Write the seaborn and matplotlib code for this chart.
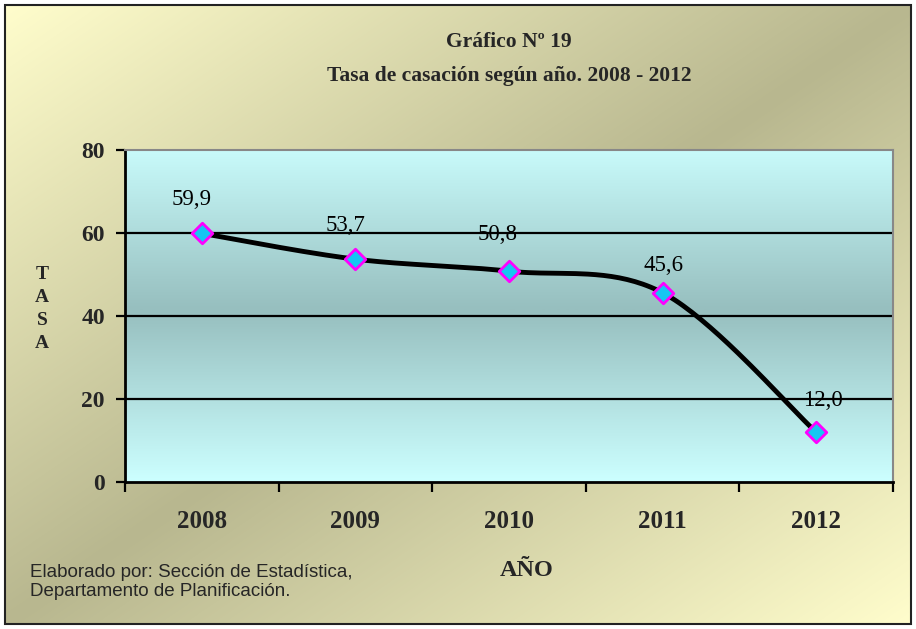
import numpy as np
import pandas as pd
import matplotlib
matplotlib.use('Agg')
import matplotlib.pyplot as plt
import seaborn as sns
from matplotlib.colors import LinearSegmentedColormap
from matplotlib.patches import Rectangle

# Data
years = ['2008', '2009', '2010', '2011', '2012']
tasa = [59.9, 53.7, 50.8, 45.6, 12.0]
labels = ['59,9', '53,7', '50,8', '45,6', '12,0']
# label offsets (points) relative to each marker
label_offsets = [(-7, 24.5), (-7, 24.5), (-8.5, 26.5), (0.5, 19.5), (5, 23)]

sns.set_style('white')
plt.rcParams['font.family'] = ['Liberation Serif', 'DejaVu Serif']

W, H = 916, 629
fig = plt.figure(figsize=(W / 100, H / 100), dpi=100)
fig.patch.set_facecolor('white')

# figure background: diagonal gradient inside a bordered box
bg_ax = fig.add_axes([0, 0, 1, 1], zorder=-10)
bg_ax.set_xlim(0, W)
bg_ax.set_ylim(H, 0)
bg_ax.axis('off')
xx, yy = np.meshgrid(np.linspace(0, 1, 300), np.linspace(0, 1, 200))
t = (xx + yy) / 2
v = np.abs(t - 0.5) * 2
bg_cmap = LinearSegmentedColormap.from_list('bg', ['#b8b78f', '#fffdcc'])
bg_ax.imshow(v, cmap=bg_cmap, extent=[5, 911, 624, 5], aspect='auto',
             interpolation='bilinear')
bg_ax.add_patch(Rectangle((5, 5), 906, 619, fill=False, edgecolor='#222222', lw=1.5))

# main plot axes
ax = fig.add_axes([125 / W, 1 - 482 / H, (893 - 125) / W, (482 - 150) / H])
ax.set_facecolor('none')

# plot-area vertical gradient
gy = np.linspace(0, 1, 200)[:, None]
gv = np.abs(gy - 0.48) / 0.52
pa_cmap = LinearSegmentedColormap.from_list('pa', ['#97bfbf', '#ccffff'])
ax.imshow(gv, cmap=pa_cmap, extent=[0, 1, 0, 1], transform=ax.transAxes,
          aspect='auto', interpolation='bilinear', zorder=0)

x = np.arange(len(years))
y = np.array(tasa)

# smoothed line (bezier through the points, like a spreadsheet "smoothed line")
pts = np.column_stack([x, y])
ext = np.vstack([pts[0], pts, pts[-1]])
curve = []
for i in range(len(pts) - 1):
    p0, p1, p2, p3 = ext[i], ext[i + 1], ext[i + 2], ext[i + 3]
    c1 = p1 + (p2 - p0) / 6
    c2 = p2 - (p3 - p1) / 6
    s = np.linspace(0, 1, 40)[:, None]
    seg = (1 - s) ** 3 * p1 + 3 * (1 - s) ** 2 * s * c1 + 3 * (1 - s) * s ** 2 * c2 + s ** 3 * p2
    curve.append(seg if i == 0 else seg[1:])
curve = np.vstack(curve)
curve_df = pd.DataFrame({'x': curve[:, 0], 'y': curve[:, 1]})

sns.lineplot(data=curve_df, x='x', y='y', ax=ax, color='black', lw=3.5,
             sort=False, estimator=None, zorder=3)
df = pd.DataFrame({'x': x, 'tasa': y})
sns.scatterplot(data=df, x='x', y='tasa', ax=ax, marker='D', s=110,
                color='#16c6f2', edgecolor='#ff00ff', linewidth=2, zorder=4)

for xi, yi, lab, off in zip(x, y, labels, label_offsets):
    ax.annotate(lab, (xi, yi), xytext=off, textcoords='offset points',
                ha='center', va='center', fontsize=16.5, color='black', zorder=5)

ax.set_xlim(-0.5, len(years) - 0.5)
ax.set_ylim(0, 80)
ax.set_yticks([0, 20, 40, 60, 80])
ax.set_yticklabels(['0', '20', '40', '60', '80'], fontsize=17, fontweight='bold')
for gl in [20, 40, 60]:
    ax.axhline(gl, color='black', lw=1.6, zorder=2)

ax.set_xticks(np.arange(-0.5, len(years), 1.0))
ax.set_xticklabels([])
ax.set_xticks(x, minor=True)
ax.set_xticklabels(years, minor=True, fontsize=18, fontweight='bold')
ax.tick_params(axis='x', which='major', direction='out', length=7, width=1.6,
               color='black', bottom=True)
ax.tick_params(axis='x', which='minor', length=0, pad=20)
ax.tick_params(axis='y', direction='out', length=6.5, width=1.6, color='black',
               left=True, pad=8)
ax.set_xlabel('')
ax.set_ylabel('')

for side in ['left', 'bottom']:
    ax.spines[side].set_color('black')
    ax.spines[side].set_linewidth(2)
for side in ['top', 'right']:
    ax.spines[side].set_visible(True)
    ax.spines[side].set_color('#888888')
    ax.spines[side].set_linewidth(1.5)

fig.text(509 / W, 1 - 42 / H, 'Gráfico Nº 19', ha='center', va='center',
         fontsize=15.5, fontweight='bold')
fig.text(509 / W, 1 - 76 / H, 'Tasa de casación según año. 2008 - 2012',
         ha='center', va='center', fontsize=15.5, fontweight='bold')
fig.text(42 / W, 1 - 309 / H, 'T\nA\nS\nA', ha='center', va='center',
         fontsize=14, fontweight='bold', linespacing=1.45)
fig.text(527 / W, 1 - 571 / H, 'AÑO', ha='center', va='center',
         fontsize=17.5, fontweight='bold')
fig.text(30 / W, 1 - 582 / H,
         'Elaborado por: Sección de Estadística,\nDepartamento de Planificación.',
         ha='left', va='center', fontsize=13.5, family=['Liberation Sans', 'DejaVu Sans'],
         linespacing=1.2)

fig.savefig('out.png', dpi=100)
